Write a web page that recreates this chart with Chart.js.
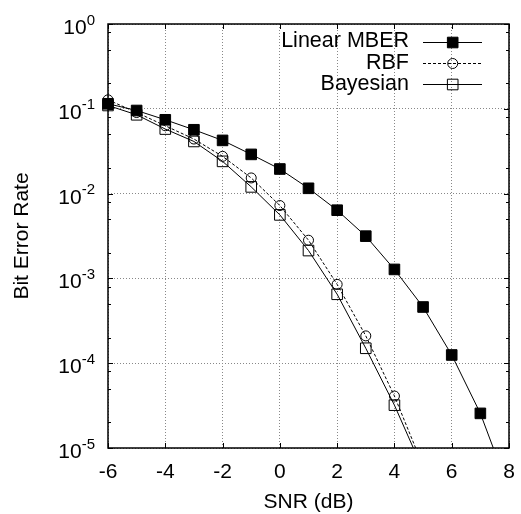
<!DOCTYPE html>
<html><head><meta charset="utf-8">
<script src="https://cdn.jsdelivr.net/npm/chart.js@4"></script>
<style>html,body{margin:0;padding:0;background:#fff}canvas{display:block}</style>
</head><body>
<canvas id="c" width="521" height="514"></canvas>
<script>
const snrLong = [-6,-5,-4,-3,-2,-1,0,1,2,3,4,5,6,7,8];
const snrShort = [-6,-5,-4,-3,-2,-1,0,1,2,3,4,5];
const linearMBER = [0.1146,0.0955,0.0742,0.0566,0.0424,0.029,0.0195,0.01155,0.00637,0.00315,0.001276,0.00046,0.000125,0.0000256,0.0000032];
const rbf = [0.1276,0.0904,0.0631,0.0440,0.0275,0.0153,0.00723,0.00282,0.00085,0.00021,0.000041,0.0000061];
const bayesian = [0.1094,0.0850,0.0577,0.0412,0.024,0.012,0.00561,0.00213,0.00065,0.00015,0.000032,0.0000055];
const seriesNames = ['Linear MBER','RBF','Bayesian'];
const xTicks = [-6,-4,-2,0,2,4,6,8];
const yTicks = [1,0.1,0.01,0.001,0.0001,0.00001];
const yExponents = ['0','-1','-2','-3','-4','-5'];
const yMinorMultipliers = [2,5,8];
const xTitle = 'SNR (dB)';
const yTitle = 'Bit Error Rate';

const FONT = '"Liberation Sans", Arial, Helvetica, sans-serif';
const toPts = (xs, ys) => ys.map((v, i) => ({x: xs[i], y: v}));

const clipOpt = {left: 10, top: 10, right: 0, bottom: 0};
const datasets = [
  {label: seriesNames[0], data: toPts(snrLong, linearMBER), borderColor: '#000', backgroundColor: '#000',
   borderWidth: 1, pointStyle: 'rect', pointRadius: 7.5, pointBorderWidth: 1, pointBackgroundColor: '#000', pointBorderColor: '#000', clip: clipOpt},
  {label: seriesNames[1], data: toPts(snrShort, rbf), borderColor: '#000', backgroundColor: 'rgba(0,0,0,0)',
   borderWidth: 1, borderDash: [3,2], pointStyle: 'circle', pointRadius: 5, pointBorderWidth: 1, pointBackgroundColor: 'rgba(0,0,0,0)', pointBorderColor: '#000', clip: clipOpt},
  {label: seriesNames[2], data: toPts(snrShort, bayesian), borderColor: '#000', backgroundColor: 'rgba(0,0,0,0)',
   borderWidth: 1, pointStyle: 'rect', pointRadius: 7.5, pointBorderWidth: 1, pointBackgroundColor: 'rgba(0,0,0,0)', pointBorderColor: '#000', clip: clipOpt}
];

const decor = {
  id: 'decor',
  afterDraw(chart) {
    const ctx = chart.ctx, a = chart.chartArea;
    const xs = chart.scales.x, ys = chart.scales.y;
    ctx.save();
    ctx.strokeStyle = '#000'; ctx.lineWidth = 1.5; ctx.setLineDash([]);
    ctx.strokeRect(a.left, a.top, a.right - a.left, a.bottom - a.top);
    ctx.lineWidth = 1;
    ctx.beginPath();
    xTicks.forEach(v => {
      const px = Math.round(xs.getPixelForValue(v)) + 0.5;
      ctx.moveTo(px, a.bottom); ctx.lineTo(px, a.bottom - 5);
      ctx.moveTo(px, a.top); ctx.lineTo(px, a.top + 5);
    });
    yTicks.forEach(v => {
      const py = Math.round(ys.getPixelForValue(v)) + 0.5;
      ctx.moveTo(a.left, py); ctx.lineTo(a.left + 5, py);
      ctx.moveTo(a.right, py); ctx.lineTo(a.right - 5, py);
      yMinorMultipliers.forEach(m => {
        const mv = v * m / 10;
        if (mv <= ys.min) return;
        const my = Math.round(ys.getPixelForValue(mv)) + 0.5;
        ctx.moveTo(a.left, my); ctx.lineTo(a.left + 3, my);
        ctx.moveTo(a.right, my); ctx.lineTo(a.right - 3, my);
      });
    });
    ctx.stroke();
    ctx.fillStyle = '#000';
    ctx.font = '21px ' + FONT;
    ctx.textAlign = 'center'; ctx.textBaseline = 'middle';
    xTicks.forEach(v => ctx.fillText(String(v), xs.getPixelForValue(v), 472));
    yTicks.forEach((v, i) => {
      const py = ys.getPixelForValue(v);
      ctx.font = '15px ' + FONT;
      ctx.textAlign = 'right'; ctx.textBaseline = 'alphabetic';
      const ew = ctx.measureText(yExponents[i]).width;
      ctx.fillText(yExponents[i], 95, py + 0.5);
      ctx.font = '21px ' + FONT;
      ctx.fillText('10', 95 - ew, py + 10);
    });
    ctx.font = '21px ' + FONT;
    ctx.textAlign = 'center'; ctx.textBaseline = 'middle';
    ctx.fillText(xTitle, (a.left + a.right) / 2, 502);
    ctx.save();
    ctx.translate(22, (a.top + a.bottom) / 2);
    ctx.rotate(-Math.PI / 2);
    ctx.fillText(yTitle, 0, 0);
    ctx.restore();
    const rows = [41.5, 62.7, 84.3];
    chart.data.datasets.forEach((ds, i) => {
      const y = rows[i];
      ctx.font = '21.5px ' + FONT;
      ctx.textAlign = 'right'; ctx.textBaseline = 'middle';
      ctx.fillStyle = '#000';
      ctx.fillText(ds.label, 409, y);
      ctx.strokeStyle = ds.borderColor; ctx.lineWidth = ds.borderWidth;
      ctx.setLineDash(ds.borderDash || []);
      ctx.beginPath(); ctx.moveTo(423, Math.round(y) + 0.5); ctx.lineTo(482, Math.round(y) + 0.5); ctx.stroke();
      ctx.setLineDash([]);
      ctx.fillStyle = ds.pointBackgroundColor; ctx.strokeStyle = ds.pointBorderColor; ctx.lineWidth = ds.pointBorderWidth;
      Chart.helpers.drawPoint(ctx, {pointStyle: ds.pointStyle, radius: ds.pointRadius, borderWidth: ds.pointBorderWidth, rotation: 0}, 452.7, Math.round(y) + 0.5);
    });
    ctx.restore();
  }
};

new Chart(document.getElementById('c'), {
  type: 'line',
  data: {datasets},
  options: {
    responsive: false, animation: false, devicePixelRatio: 1,
    layout: {padding: {top: 24, right: 12, left: 0, bottom: 0}},
    plugins: {legend: {display: false}, tooltip: {enabled: false}, title: {display: false}},
    elements: {line: {tension: 0}},
    scales: {
      x: {
        type: 'linear', min: -6, max: 8,
        afterBuildTicks: s => { s.ticks = xTicks.map(v => ({value: v})); },
        afterFit: s => { s.height = 66; },
        ticks: {display: false},
        grid: {color: '#888', lineWidth: 1, drawTicks: false},
        border: {display: false, dash: [1, 2]}
      },
      y: {
        type: 'logarithmic', min: 1e-5, max: 1,
        afterBuildTicks: s => { s.ticks = yTicks.map(v => ({value: v})); },
        afterFit: s => { s.width = 108; },
        ticks: {display: false},
        grid: {color: '#888', lineWidth: 1, drawTicks: false},
        border: {display: false, dash: [1, 2]}
      }
    }
  },
  plugins: [decor]
});
</script>
</body></html>
